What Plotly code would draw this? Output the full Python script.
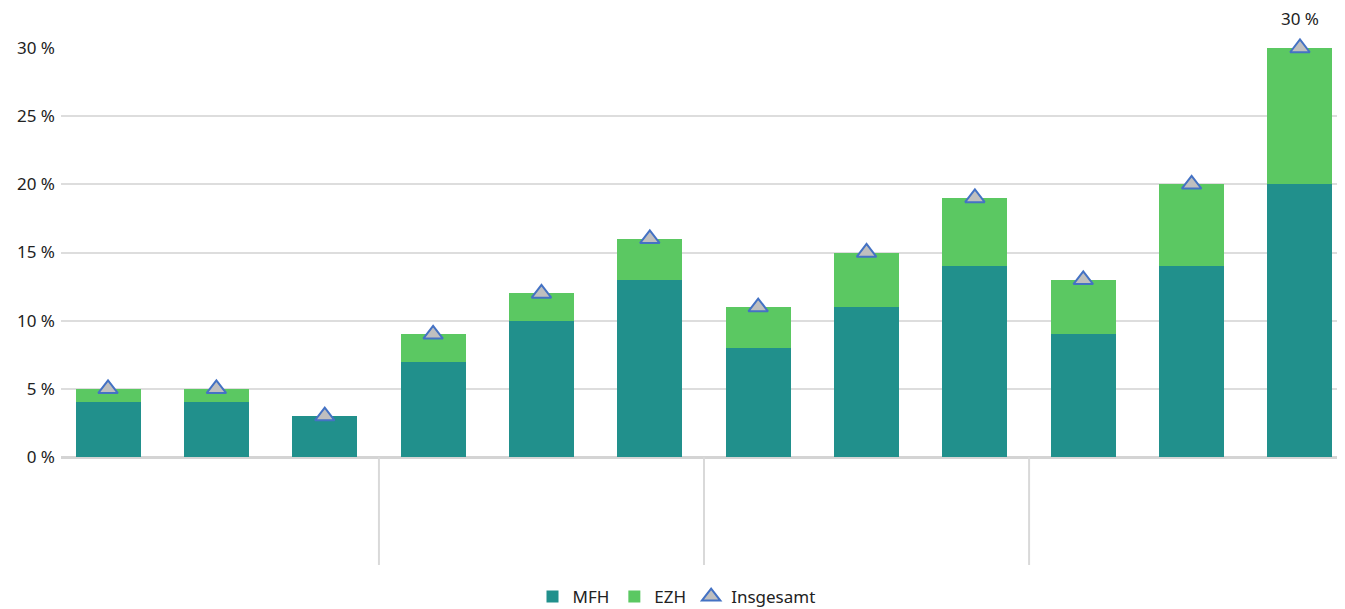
import plotly.graph_objects as go

# Werte je Kategorie (in %)
kategorien = list(range(12))
mfh = [4, 4, 3, 7, 10, 13, 8, 11, 14, 9, 14, 20]
ezh = [1, 1, 0, 2, 2, 3, 3, 4, 5, 4, 6, 10]
insgesamt = [5, 5, 3, 9, 12, 16, 11, 15, 19, 13, 20, 30]
gruppen_grenzen = [2.5, 5.5, 8.5]

fig = go.Figure()
fig.add_trace(go.Bar(x=kategorien, y=mfh, name="MFH", marker_color="#21908C",
                     width=0.6, marker_line_width=0))
fig.add_trace(go.Bar(x=kategorien, y=ezh, name="EZH", marker_color="#5BC862",
                     width=0.6, marker_line_width=0))
fig.add_trace(go.Scatter(
    x=kategorien, y=insgesamt, name="Insgesamt", mode="markers",
    marker=dict(symbol="triangle-up", size=17, color="#BFBFBF",
                line=dict(color="#4472C4", width=2)),
    cliponaxis=False,
))

# nur der Höchstwert bekommt eine Beschriftung
top = max(insgesamt)
i_top = insgesamt.index(top)
fig.add_annotation(x=kategorien[i_top], y=top, text=f"{top} %", showarrow=False,
                   yshift=30, font=dict(size=17, color="#222222"))

# vertikale Trennlinien zwischen den Gruppen unterhalb der Achse
for g in gruppen_grenzen:
    fig.add_shape(type="line", xref="x", yref="paper", x0=g, x1=g, y0=0, y1=-0.264,
                  line=dict(color="#D9D9D9", width=2))

# die Seite hat 8 px Rand, daher etwas kleiner
fig.update_layout(
    barmode="stack",
    width=1337, height=601,
    margin=dict(l=53, r=2, t=40, b=152),
    plot_bgcolor="white", paper_bgcolor="white",
    font=dict(family="Noto Sans", size=17, color="#222222"),
    showlegend=True,
    legend=dict(orientation="h", x=0.5, xanchor="center", xref="container",
                y=0.02, yanchor="middle", yref="container",
                font=dict(size=17), traceorder="normal"),
    xaxis=dict(range=[-0.434, 11.397], showticklabels=False, showgrid=False,
               zeroline=False, showline=False, fixedrange=True, automargin=False),
    yaxis=dict(range=[0, 30], dtick=5, ticksuffix=" %", showgrid=True,
               gridcolor="#DDDDDD", gridwidth=2, zeroline=True, zerolinecolor="#D4D4D4",
               zerolinewidth=3, showline=False, ticks="", ticklabelstandoff=5,
               automargin=False),
)

fig.write_html("out.html")
